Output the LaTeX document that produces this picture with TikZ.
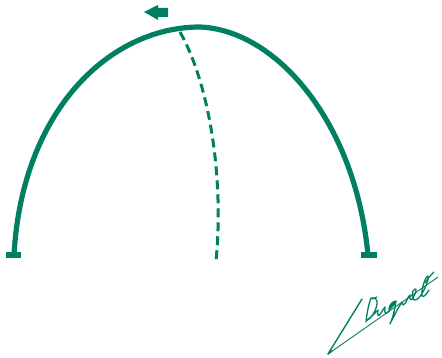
\documentclass[tikz,border=0pt]{standalone}
\begin{document}
\begin{tikzpicture}[x=1pt,y=-1pt,
  archline/.style={draw=dgreen,line width=5.2pt},
  dashline/.style={draw=dgreen,line width=3pt,dash pattern=on 9pt off 5pt},
  sigline/.style={draw=dgreen,line width=0.9pt,line cap=round,line join=round}]
\definecolor{dgreen}{RGB}{0,128,96}
\useasboundingbox (0,0) rectangle (442,358);
% arch
\coordinate (lf) at (14,255);
\coordinate (top) at (200,27);
\coordinate (rf) at (368,255);
\draw[archline] (lf) .. controls (22,110) and (110,27) .. (top)
  .. controls (275,30) and (355,120) .. (rf);
% feet
\fill[dgreen] (6,252) rectangle (21,258);
\fill[dgreen] (361,252) rectangle (377,258);
% arrow
\fill[dgreen] (144,12) -- (158,5) -- (158,8) -- (168,8) -- (168,17) -- (158,17) -- (158,20) -- cycle;
% dashed
\coordinate (ds) at (180,32);
\coordinate (de) at (216,261);
\draw[dashline] (ds) .. controls (210,85) and (224,180) .. (de);
% signature
\draw[sigline] (328,354) -- (438,277);
\draw[sigline,line width=1.4pt] (362,299) -- (328,354) -- (332,351);
\draw[sigline,line width=1.3pt]
  (366,322) .. controls (367,312) and (369,303) .. (371,298)
  .. controls (375,297) and (378,300) .. (377,304)
  .. controls (376,311) and (371,319) .. (366,321)
  .. controls (370,318) and (374,314) .. (378,310)
  .. controls (377,315) and (378,318) .. (381,313)
  .. controls (383,310) and (384,308) .. (385,307)
  .. controls (384,312) and (385,316) .. (389,311)
  .. controls (391,306) and (394,302) .. (396,301)
  .. controls (393,301) and (389,305) .. (389,309)
  .. controls (391,309) and (394,305) .. (396,301)
  .. controls (395,308) and (393,318) .. (390,324)
  .. controls (394,316) and (398,308) .. (402,302)
  .. controls (402,306) and (404,306) .. (407,300)
  .. controls (408,297) and (409,296) .. (410,295)
  .. controls (409,300) and (411,302) .. (414,296)
  .. controls (416,292) and (417,289) .. (415,289)
  .. controls (412,290) and (411,297) .. (414,300)
  .. controls (417,301) and (421,296) .. (424,290)
  .. controls (427,284) and (429,278) .. (428,276)
  .. controls (425,277) and (421,290) .. (422,296)
  .. controls (424,298) and (427,293) .. (429,290);
\draw[sigline,line width=1.2pt] (372,299) -- (377,297);
\draw[sigline,line width=1.2pt] (425,283) .. controls (428,278) and (431,275) .. (434,272);
\end{tikzpicture}
\end{document}
